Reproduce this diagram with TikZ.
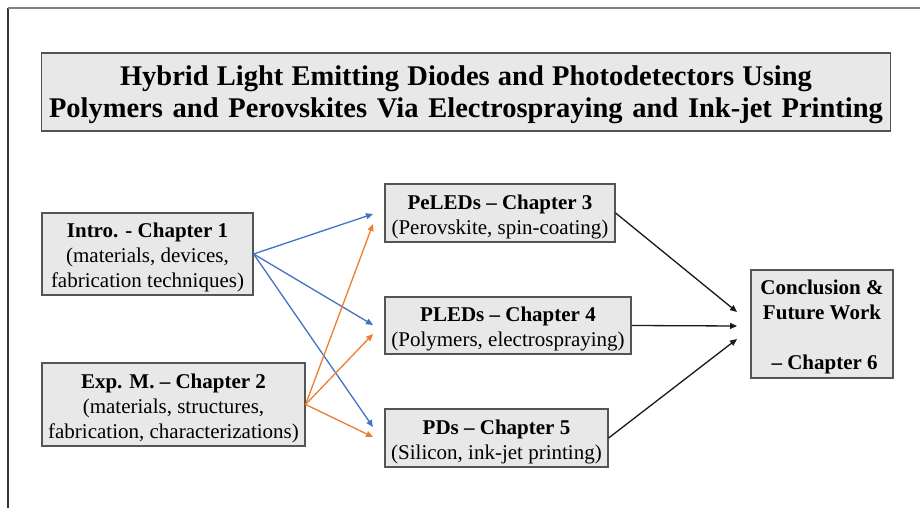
\documentclass[tikz,border=0pt]{standalone}
\usepackage{fontspec}
\setmainfont{Liberation Serif}
\usetikzlibrary{arrows.meta}
\definecolor{boxfill}{HTML}{E8E8E8}
\definecolor{boxline}{HTML}{555555}
\definecolor{bluearr}{HTML}{4472C4}
\definecolor{orangearr}{HTML}{ED7D31}
\newcommand\tstr[1]{\rule{0pt}{#1}}
\tikzset{
  chapbox/.style={draw=boxline, fill=boxfill, line width=1.2pt, align=center, inner sep=0pt,
    font=\fontsize{21}{25}\selectfont},
  arr/.style={line width=1.3pt, -{Triangle[length=7pt,width=6pt]}},
  bluea/.style={arr, draw=bluearr, fill=bluearr},
  orangea/.style={arr, draw=orangearr, fill=orangearr},
  blacka/.style={arr, draw=black!90, fill=black!90},
}
\begin{document}
\begin{tikzpicture}[x=1pt,y=1pt]
\useasboundingbox (0,0) rectangle (920,508);
\draw[line width=1.2pt, black!80] (8,0) -- (8,500);
\draw[line width=1.2pt, black!50] (8,500) -- (920,500);

\node[chapbox, minimum width=849pt, minimum height=78pt, font=\fontsize{28.5}{32}\selectfont\bfseries]
  (title) at (466,416) {\tstr{25pt}\makebox[692pt][s]{Hybrid Light Emitting Diodes and Photodetectors Using}\\
  \makebox[834pt][s]{Polymers and Perovskites Via Electrospraying and Ink-jet Printing}};

\node[chapbox, minimum width=211pt, minimum height=82pt] (intro) at (147.5,254)
  {\tstr{22pt}\textbf{Intro. - Chapter 1}\\(materials, devices,\\fabrication techniques)};
\node[chapbox, minimum width=263pt, minimum height=83pt] (exp) at (173.5,103.5)
  {\tstr{22pt}\textbf{Exp. M. – Chapter 2}\\(materials, structures,\\fabrication, characterizations)};
\node[chapbox, minimum width=230pt, minimum height=58pt] (peled) at (500,295)
  {\tstr{22pt}\textbf{PeLEDs – Chapter 3}\\(Perovskite, spin-coating)};
\node[chapbox, minimum width=246pt, minimum height=57pt] (pled) at (508,182.5)
  {\tstr{22pt}\textbf{PLEDs – Chapter 4}\\(Polymers, electrospraying)};
\node[chapbox, minimum width=223pt, minimum height=58pt] (pd) at (496.5,70)
  {\tstr{22pt}\textbf{PDs – Chapter 5}\\(Silicon, ink-jet printing)};
\node[chapbox, minimum width=142pt, minimum height=108pt, font=\fontsize{21}{25}\selectfont\bfseries]
  (concl) at (822,184) {\tstr{20pt}Conclusion \&\\Future Work\\[25pt]\ – Chapter 6};

\coordinate (b1) at (373,294);
\coordinate (b2) at (373,183);
\coordinate (b3) at (373,81);
\coordinate (o1) at (373,284);
\coordinate (o2) at (373,174);
\coordinate (o3) at (373,71);
\coordinate (k1) at (737,196);
\coordinate (k2) at (737,182);
\coordinate (k3) at (737,169);

\draw[bluea] (intro.east) -- (b1);
\draw[bluea] (intro.east) -- (b2);
\draw[bluea] (intro.east) -- (b3);
\draw[orangea] (exp.east) -- (o1);
\draw[orangea] (exp.east) -- (o2);
\draw[orangea] (exp.east) -- (o3);
\draw[blacka] (peled.east) -- (k1);
\draw[blacka] (pled.east) -- (k2);
\draw[blacka] (pd.east) -- (k3);
\end{tikzpicture}
\end{document}
